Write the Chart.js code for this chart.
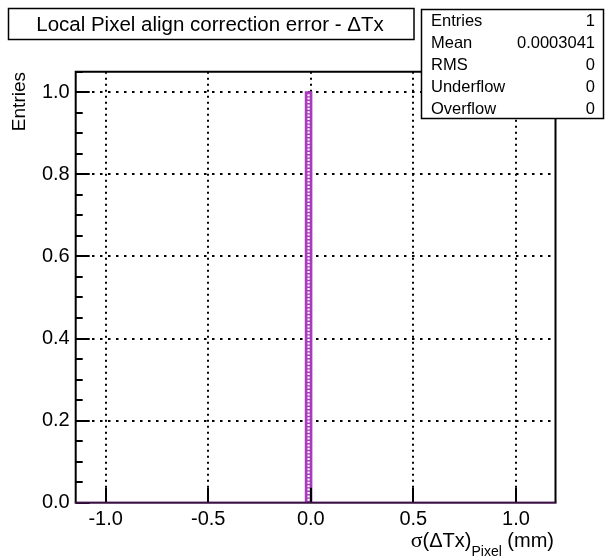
<!DOCTYPE html>
<html><head><meta charset="utf-8">
<script src="https://cdn.jsdelivr.net/npm/chart.js@4/dist/chart.umd.min.js"></script>
<style>html,body{margin:0;padding:0;background:#fff;}#c{display:block;}</style>
</head><body>
<canvas id="c" width="607" height="559"></canvas>
<script>
// ---- data ----
const binEdges = [-1.146, -0.0244, 0.0030, 1.193];
const binCounts = [0, 1, 0];
const xTicks = [-1.0, -0.5, 0.0, 0.5, 1.0];
const yTicks = [0.0, 0.2, 0.4, 0.6, 0.8, 1.0];
const yMax = 1.05;
const titleText = 'Local Pixel align correction error - \u0394Tx';
const statLabels = ['Entries', 'Mean', 'RMS', 'Underflow', 'Overflow'];
const statValues = ['1', '0.0003041', '0', '0', '0'];
const yTitle = 'Entries';

const FONT = '"Liberation Sans", Arial, Helvetica, sans-serif';
const PURPLE = '#a83cbc';

const pts = [];
for (let i = 0; i < binCounts.length; i++) {
  pts.push({x: binEdges[i], y: binCounts[i]});
  pts.push({x: binEdges[i+1], y: binCounts[i]});
}

const rootPlugin = {
  id: 'rootDecor',
  afterDatasetsDraw(chart) {
    const ctx = chart.ctx, a = chart.chartArea;
    const xs = chart.scales.x, ys = chart.scales.y;
    ctx.save();
    // white dashes in the filled bin
    for (let i = 0; i < binCounts.length; i++) {
      if (binCounts[i] > 0) {
        const xc = (xs.getPixelForValue(binEdges[i]) + xs.getPixelForValue(binEdges[i+1])) / 2;
        ctx.strokeStyle = '#ffffff';
        ctx.lineWidth = 2.2;
        ctx.setLineDash([2, 1.4]);
        ctx.beginPath();
        ctx.moveTo(xc, ys.getPixelForValue(binCounts[i]) + 2);
        ctx.lineTo(xc, ys.getPixelForValue(0) - 1);
        ctx.stroke();
        ctx.setLineDash([]);
      }
    }
    // ticks inside
    ctx.strokeStyle = '#000';
    ctx.lineWidth = 2;
    ctx.beginPath();
    for (let v = 0; v <= yMax + 1e-9; v += 0.05) {
      const y = Math.round(ys.getPixelForValue(v));
      const major = Math.abs(v / 0.2 - Math.round(v / 0.2)) < 1e-6;
      ctx.moveTo(a.left, y);
      ctx.lineTo(a.left + (major ? 14 : 7), y);
    }
    xTicks.forEach(v => {
      const x = Math.round(xs.getPixelForValue(v));
      ctx.moveTo(x, a.bottom);
      ctx.lineTo(x, a.bottom - 15);
    });
    ctx.stroke();
    // frame
    ctx.lineWidth = 2;
    ctx.strokeStyle = '#000';
    ctx.beginPath();
    ctx.moveTo(a.left, a.bottom);
    ctx.lineTo(a.left, a.top);
    ctx.lineTo(a.right, a.top);
    ctx.lineTo(a.right, a.bottom);
    ctx.stroke();
    ctx.strokeStyle = '#3a1240';
    ctx.beginPath();
    ctx.moveTo(a.left - 1, a.bottom);
    ctx.lineTo(a.right + 1, a.bottom);
    ctx.stroke();

    // title box
    ctx.fillStyle = '#fff';
    ctx.fillRect(8, 8, 406, 31);
    ctx.strokeStyle = '#000';
    ctx.lineWidth = 1.5;
    ctx.strokeRect(8.5, 8.5, 405.5, 31);
    ctx.fillStyle = '#000';
    ctx.font = '20.5px ' + FONT;
    ctx.textAlign = 'center';
    ctx.textBaseline = 'alphabetic';
    ctx.fillText(titleText, 210, 31);

    // stats box
    ctx.fillStyle = '#fff';
    ctx.fillRect(421, 9, 183, 110);
    ctx.strokeStyle = '#000';
    ctx.lineWidth = 1.5;
    ctx.strokeRect(421.5, 9.5, 182, 109);
    ctx.fillStyle = '#000';
    ctx.font = '16.5px ' + FONT;
    const rowY0 = 25.5, rowH = 22;
    statLabels.forEach((s, i) => {
      ctx.textAlign = 'left';
      ctx.fillText(s, 431, rowY0 + i * rowH);
      ctx.textAlign = 'right';
      ctx.fillText(statValues[i], 595, rowY0 + i * rowH);
    });

    // y title (rotated, right-aligned to top)
    ctx.save();
    ctx.translate(25, 72);
    ctx.rotate(-Math.PI / 2);
    ctx.textAlign = 'right';
    ctx.font = '19px ' + FONT;
    ctx.fillText(yTitle, 0, 0);
    ctx.restore();

    // x title: σ(ΔTx)_Pixel (mm), right aligned
    const base = 547;
    const parts = [
      {t: '\u03c3', f: '22px "Liberation Serif", serif', dy: 0},
      {t: '(', f: '20px ' + FONT, dy: 0},
      {t: '\u0394', f: '20px ' + FONT, dy: 0},
      {t: 'Tx)', f: '20px ' + FONT, dy: 0},
      {t: 'Pixel', f: '14px ' + FONT, dy: 9},
      {t: ' (mm)', f: '20px ' + FONT, dy: 0}
    ];
    let total = 0;
    parts.forEach(p => { ctx.font = p.f; p.w = ctx.measureText(p.t).width; total += p.w; });
    let x = 554 - total;
    ctx.textAlign = 'left';
    parts.forEach(p => { ctx.font = p.f; ctx.fillText(p.t, x, base + p.dy); x += p.w; });
    ctx.restore();
  }
};

new Chart(document.getElementById('c'), {
  type: 'line',
  data: {
    datasets: [{
      data: pts,
      borderColor: PURPLE,
      backgroundColor: PURPLE,
      borderWidth: 2,
      fill: 'origin',
      pointRadius: 0,
      tension: 0
    }]
  },
  options: {
    responsive: false,
    animation: false,
    events: [],
    layout: {padding: {left: 0, top: 71.7, right: 51.5, bottom: 0}},
    plugins: {legend: {display: false}, tooltip: {enabled: false}, title: {display: false}},
    scales: {
      x: {
        type: 'linear',
        min: binEdges[0],
        max: binEdges[binEdges.length - 1],
        afterBuildTicks: s => { s.ticks = xTicks.map(v => ({value: v})); },
        afterFit: s => { s.height = 56.3; },
        border: {display: false, dash: [2, 4]},
        grid: {color: '#000', lineWidth: 2, drawTicks: false},
        ticks: {
          color: '#000', font: {family: FONT, size: 20}, padding: 5,
          maxRotation: 0, autoSkip: false,
          callback: v => v.toFixed(1)
        }
      },
      y: {
        type: 'linear',
        min: 0,
        max: yMax,
        afterBuildTicks: s => { s.ticks = yTicks.map(v => ({value: v})); },
        afterFit: s => { s.width = 75.7; },
        border: {display: false, dash: [2.5, 5.5]},
        grid: {
          color: ctx => (ctx.tick && ctx.tick.value === 0) ? 'rgba(0,0,0,0)' : '#000',
          lineWidth: 2, drawTicks: false
        },
        ticks: {
          color: '#000', font: {family: FONT, size: 20}, padding: 6,
          autoSkip: false,
          callback: v => v.toFixed(1)
        }
      }
    }
  },
  plugins: [rootPlugin]
});
</script>
</body></html>
